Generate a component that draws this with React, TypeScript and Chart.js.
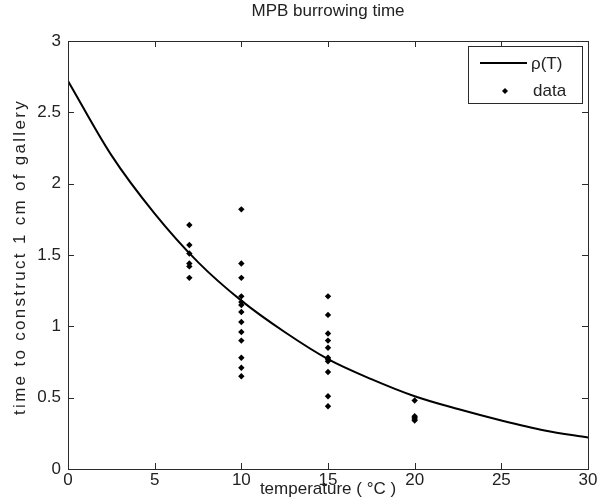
import React, { useEffect, useRef } from "react";
import { Chart, registerables } from "chart.js";

Chart.register(...registerables);

const FONT = "'Liberation Sans', Arial, Helvetica, sans-serif";

const curveT = [0, 2.5, 5, 7.5, 10, 12.5, 15, 17.5, 20, 22.5, 25, 27.5, 30];
const curveRho = [2.72, 2.2, 1.79, 1.45, 1.18, 0.96, 0.77, 0.63, 0.51, 0.42, 0.34, 0.27, 0.22];

const temps = [7, 10, 15, 20];
const times7 = [1.71, 1.57, 1.51, 1.44, 1.42, 1.34];
const times10 = [1.82, 1.44, 1.34, 1.21, 1.17, 1.15, 1.1, 1.03, 0.96, 0.9, 0.78, 0.71, 0.65];
const times15 = [1.21, 1.08, 0.95, 0.9, 0.85, 0.78, 0.77, 0.755, 0.68, 0.51, 0.44];
const times20 = [0.48, 0.37, 0.36, 0.35, 0.34];

const xTicks = [0, 5, 10, 15, 20, 25, 30];
const yTicks = [0, 0.5, 1, 1.5, 2, 2.5, 3];

const titleText = "MPB burrowing time";
const xLabel = "temperature ( \u00B0C )";
const yLabel = "time to construct 1 cm of gallery";
const legendLine = "\u03C1(T)";
const legendData = "data";

export default function App() {
  const ref = useRef<HTMLCanvasElement | null>(null);

  useEffect(() => {
    const canvas = ref.current;
    if (!canvas) return;

    const groups = [times7, times10, times15, times20];
    const pts: { x: number; y: number }[] = [];
    groups.forEach((g, i) => g.forEach((v) => pts.push({ x: temps[i], y: v })));
    const curve = curveT.map((t, i) => ({ x: t, y: curveRho[i] }));

    const frame = {
      id: "frame",
      afterDraw(chart: any) {
        const ctx = chart.ctx;
        const a = chart.chartArea;
        const xs = chart.scales.x;
        const ys = chart.scales.y;
        ctx.save();
        ctx.strokeStyle = "#2a2a2a";
        ctx.lineWidth = 1;
        ctx.strokeRect(Math.round(a.left) + 0.5, Math.round(a.top) + 0.5, Math.round(a.right - a.left), Math.round(a.bottom - a.top));
        const tl = 6;
        ctx.beginPath();
        xTicks.forEach((v) => {
          const px = Math.round(xs.getPixelForValue(v)) + 0.5;
          ctx.moveTo(px, a.bottom);
          ctx.lineTo(px, a.bottom - tl);
          ctx.moveTo(px, a.top);
          ctx.lineTo(px, a.top + tl);
        });
        yTicks.forEach((v) => {
          const py = Math.round(ys.getPixelForValue(v)) + 0.5;
          ctx.moveTo(a.left, py);
          ctx.lineTo(a.left + tl, py);
          ctx.moveTo(a.right, py);
          ctx.lineTo(a.right - tl, py);
        });
        ctx.stroke();

        // title
        ctx.fillStyle = "#222";
        ctx.font = `17px ${FONT}`;
        ctx.textAlign = "center";
        ctx.textBaseline = "middle";
        ctx.fillText(titleText, (a.left + a.right) / 2, 11);

        // y label (stretched like the original rotated text)
        ctx.save();
        ctx.translate(20, (a.top + a.bottom) / 2 + 3);
        ctx.rotate(-Math.PI / 2);
        (ctx as any).letterSpacing = "2.3px";
        ctx.fillText(yLabel, 1, 0);
        ctx.restore();

        // legend
        const bx = 468, by = 46, bw = 114, bh = 57;
        ctx.fillStyle = "#fff";
        ctx.fillRect(bx, by, bw, bh);
        ctx.strokeStyle = "#2a2a2a";
        ctx.strokeRect(bx + 0.5, by + 0.5, bw, bh);
        ctx.strokeStyle = "#000";
        ctx.lineWidth = 2;
        ctx.beginPath();
        ctx.moveTo(480, 63);
        ctx.lineTo(527, 63);
        ctx.stroke();
        ctx.fillStyle = "#000";
        ctx.beginPath();
        ctx.moveTo(505, 88);
        ctx.lineTo(508, 91);
        ctx.lineTo(505, 94);
        ctx.lineTo(502, 91);
        ctx.closePath();
        ctx.fill();
        ctx.fillStyle = "#222";
        ctx.textAlign = "left";
        ctx.font = `17px ${FONT}`;
        ctx.fillText(legendLine, 531, 64);
        ctx.fillText(legendData, 533, 91);
        ctx.restore();
      },
    };

    const chart = new Chart(canvas, {
      type: "scatter",
      data: {
        datasets: [
          {
            label: legendLine,
            data: curve,
            showLine: true,
            borderColor: "#000",
            borderWidth: 2,
            pointRadius: 0,
            cubicInterpolationMode: "monotone",
          } as any,
          {
            label: legendData,
            data: pts,
            showLine: false,
            pointStyle: "rectRot",
            pointRadius: 3.2,
            borderWidth: 0,
            backgroundColor: "#000",
            borderColor: "#000",
          } as any,
        ],
      },
      options: {
        responsive: false,
        animation: false,
        layout: { padding: { top: 41, right: 15, left: 0, bottom: 0 } },
        plugins: { legend: { display: false }, title: { display: false }, tooltip: { enabled: false } },
        scales: {
          x: {
            type: "linear",
            min: 0,
            max: 30,
            afterFit: (s: any) => { s.height = 29; },
            afterBuildTicks: (s: any) => { s.ticks = xTicks.map((v) => ({ value: v })); },
            grid: { display: false, drawTicks: false },
            border: { display: false },
            ticks: { color: "#222", font: { size: 17, family: FONT }, padding: 1.5, maxRotation: 0, autoSkip: false, callback: (v: any) => String(v) },
            title: { display: true, text: xLabel, color: "#222", font: { size: 17, family: FONT, lineHeight: 1 }, padding: { top: 0, bottom: 0 } },
          },
          y: {
            type: "linear",
            min: 0,
            max: 3,
            afterFit: (s: any) => { s.width = 68; },
            afterBuildTicks: (s: any) => { s.ticks = yTicks.map((v) => ({ value: v })); },
            grid: { display: false, drawTicks: false },
            border: { display: false },
            ticks: { color: "#222", font: { size: 17, family: FONT }, padding: 7, autoSkip: false, callback: (v: any) => String(v) },
            title: { display: false },
          },
        },
      },
      plugins: [frame],
    });

    return () => chart.destroy();
  }, []);

  return (
    <div style={{ position: "fixed", left: 0, top: 0, width: 603, height: 498, background: "#fff" }}>
      <canvas ref={ref} width={603} height={498} style={{ width: 603, height: 498 }} />
    </div>
  );
}
